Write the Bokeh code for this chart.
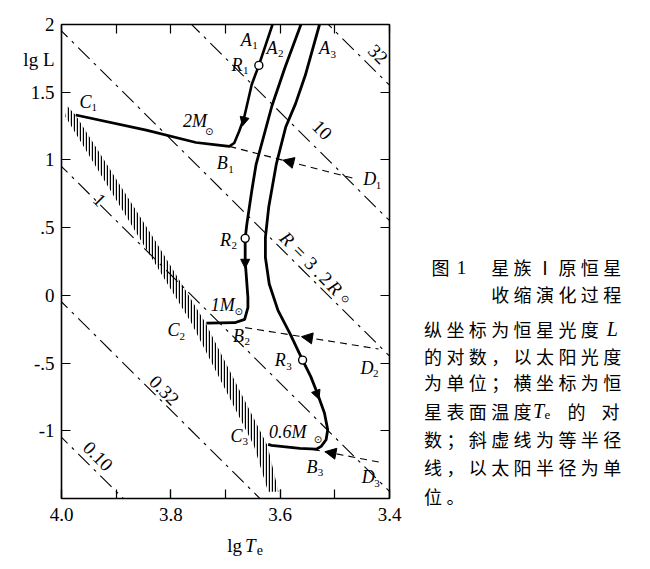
import math
from bokeh.plotting import figure
from bokeh.layouts import row, column
from bokeh.models import Range1d, FixedTicker, LinearAxis, Label, Arrow, NormalHead
from bokeh.core.properties import value
from bokeh.embed import file_html
from bokeh.resources import INLINE

# ---------------- data (lg Te, lg L) ----------------
x_label_ticks = [4.0, 3.8, 3.6, 3.4]
x_tick_labels = ["4.0", "3.8", "3.6", "3.4"]
x_ticks = [4.0, 3.9, 3.8, 3.7, 3.6, 3.5, 3.4]
y_ticks = [2.0, 1.5, 1.0, 0.5, 0.0, -0.5, -1.0, -1.5]
# left-axis label positions: tick values plus the axis title "lg L" between 2 and 1.5
y_label_pos = [2.0, 1.74, 1.5, 1.0, 0.5, 0.0, -0.5, -1.0]
y_label_text = ["2", "lg L", "1.5", "1", ".5", "0", "-.5", "-1"]

# evolutionary tracks (2, 1, 0.6 solar masses)
t1_lgT = [3.614, 3.639, 3.652, 3.666, 3.675, 3.684, 3.693, 3.717, 3.754, 3.845, 3.974]
t1_lgL = [2.00, 1.698, 1.557, 1.311, 1.212, 1.125, 1.100, 1.111, 1.129, 1.220, 1.331]
t2_lgT = [3.562, 3.591, 3.615, 3.644, 3.652, 3.661, 3.664, 3.664, 3.659, 3.659, 3.665, 3.683, 3.735]
t2_lgL = [2.00, 1.684, 1.400, 0.968, 0.771, 0.524, 0.421, 0.254, -0.016, -0.090, -0.177, -0.202, -0.205]
t3_lgT = [3.528, 3.554, 3.572, 3.590, 3.607, 3.621, 3.627, 3.627, 3.620, 3.604, 3.582, 3.559,
          3.544, 3.532, 3.519, 3.513, 3.516, 3.525, 3.534, 3.564, 3.616, 3.622]
t3_lgL = [2.00, 1.625, 1.414, 1.241, 0.970, 0.650, 0.428, 0.280, 0.084, -0.111, -0.283, -0.478,
          -0.600, -0.723, -0.869, -0.992, -1.066, -1.115, -1.136, -1.130, -1.108, -1.101]

# R points (open circles)
r_lgT = [3.639, 3.664, 3.559]
r_lgL = [1.698, 0.421, -0.478]

# direction arrows on tracks (from, to)
ta_from_lgT = [3.657, 3.664, 3.541]
ta_from_lgL = [1.45, 0.36, -0.64]
ta_to_lgT = [3.669, 3.664, 3.529]
ta_to_lgL = [1.25, 0.20, -0.767]

# B -> D dashed lines and arrow tips
bd_B_lgT = [3.693, 3.664, 3.540]
bd_B_lgL = [1.100, -0.238, -1.137]
bd_D_lgT = [3.461, 3.420, 3.418]
bd_D_lgL = [0.859, -0.396, -1.232]
bd_tip_lgT = [3.595, 3.561, 3.518]
bd_tip_lgL = [0.998, -0.305, -1.154]

# main-sequence hatched band
band_upper_lgT = [3.990, 3.974, 3.831, 3.737, 3.623, 3.603]
band_upper_lgL = [1.40, 1.33, 0.42, -0.20, -1.11, -1.45]
band_lower_lgT = [3.622, 3.648, 3.763, 3.857, 3.993]
band_lower_lgL = [-1.45, -1.11, -0.20, 0.42, 1.32]

# lines of constant radius (R in solar radii): lg L at lg Te = 4.05 and 3.35
iso_R = ["0.10", "0.32", "1", "3.2", "10", "32"]
iso_lgT_ends = [4.05, 3.35]
iso_lgL_left = [-0.848, 0.152, 1.152, 2.152, 3.152, 4.152]
iso_lgL_right = [-3.648, -2.648, -1.648, -0.648, 0.352, 1.352]

caption_rows = ["星族Ⅰ原恒星", "收缩演化过程", "纵坐标为恒星光度", "的对数，以太阳光度",
                "为单位；横坐标为恒", "星表面温度", "数；斜虚线为等半径", "线，以太阳半径为单", "位。"]

# ---------------- layout sizes (pixels) ----------------
TOTAL_W, TOTAL_H = 634, 558
PW = 415                  # width of main plot figure
ML, MR, MT, MB = 61, 26, 24, 31
PH = 24 + 474 + MB        # main figure height
SH = TOTAL_H - PH         # strip below (x title)
CW = TOTAL_W - PW         # caption figure width

SERIF = "Liberation Serif"
CJK = "Noto Sans CJK SC"

p = figure(width=PW, height=PH, x_range=Range1d(4.0, 3.4), y_range=Range1d(-1.5, 2.0),
           output_backend="svg", toolbar_location=None,
           min_border_left=ML, min_border_right=MR, min_border_top=MT, min_border_bottom=MB)
p.grid.visible = False
p.outline_line_color = "black"
p.outline_line_width = 1.6
p.background_fill_color = "white"
p.border_fill_color = "white"


def base_axis(ax, labelled=True):
    ax.major_tick_in = 9
    ax.major_tick_out = 0
    ax.minor_tick_in = 9
    ax.minor_tick_out = 0
    ax.major_tick_line_width = 1.2
    ax.major_tick_line_color = "black"
    ax.minor_tick_line_width = 1.2
    ax.minor_tick_line_color = "black"
    ax.axis_line_color = None
    ax.major_label_text_font = SERIF
    if labelled:
        ax.major_label_text_color = "black"
        ax.major_label_text_font_size = "19px"
    else:
        ax.major_label_text_color = None
        ax.major_label_text_font_size = "0px"


# bottom axis: labels every 0.2, tick marks every 0.1
xa = p.xaxis[0]
base_axis(xa)
xa.ticker = FixedTicker(ticks=x_label_ticks, minor_ticks=x_ticks)
xa.major_label_overrides = dict(zip(x_label_ticks, x_tick_labels))
xa.major_label_standoff = 9

# left axis: labels at y_label_pos (no marks), tick marks drawn as minor ticks at y_ticks
ya = p.yaxis[0]
base_axis(ya)
ya.ticker = FixedTicker(ticks=y_label_pos, minor_ticks=y_ticks)
ya.major_tick_in = 0
ya.major_label_overrides = dict(zip(y_label_pos, y_label_text))
ya.major_label_standoff = 7

ax_top = LinearAxis(ticker=FixedTicker(ticks=x_ticks))
base_axis(ax_top, labelled=False)
p.add_layout(ax_top, "above")
ax_right = LinearAxis(ticker=FixedTicker(ticks=y_ticks))
base_axis(ax_right, labelled=False)
p.add_layout(ax_right, "right")

# iso-radius lines
for lft, rgt in zip(iso_lgL_left, iso_lgL_right):
    p.line(iso_lgT_ends, [lft, rgt], line_color="black", line_width=1.1, line_dash="16 6 3 6")

# hatched band
p.patch(band_upper_lgT + band_lower_lgT, band_upper_lgL + band_lower_lgL,
        fill_alpha=0, line_alpha=0, hatch_pattern="|", hatch_color="black",
        hatch_scale=3.0, hatch_weight=1.4)

# B-D dashed lines
for bx, by, dx, dy in zip(bd_B_lgT, bd_B_lgL, bd_D_lgT, bd_D_lgL):
    p.line([bx, dx], [by, dy], line_color="black", line_width=1.1, line_dash="7 5")
for dx, dy, tx, ty in zip(bd_D_lgT, bd_D_lgL, bd_tip_lgT, bd_tip_lgL):
    p.add_layout(Arrow(end=NormalHead(size=11, fill_color="black", line_color="black", line_width=1),
                       x_start=dx, y_start=dy, x_end=tx, y_end=ty, line_alpha=0))

# tracks
p.line(t1_lgT, t1_lgL, line_color="black", line_width=2.6, line_join="round")
p.line(t2_lgT, t2_lgL, line_color="black", line_width=2.8, line_join="round")
p.line(t3_lgT, t3_lgL, line_color="black", line_width=2.8, line_join="round")
for fx, fy, tx, ty in zip(ta_from_lgT, ta_from_lgL, ta_to_lgT, ta_to_lgL):
    p.add_layout(Arrow(end=NormalHead(size=9, fill_color="black", line_color="black", line_width=1),
                       x_start=fx, y_start=fy, x_end=tx, y_end=ty, line_alpha=0))
p.scatter(r_lgT, r_lgL, marker="circle", size=8, fill_color="white", line_color="black", line_width=1.4)


# ---------------- texts inside the frame ----------------
def txt(x, y, text, size=18, italic=False, font=SERIF, align="center", angle=0.0, xo=0, yo=0):
    p.add_layout(Label(x=x, y=y, text=text, text_font=font, text_font_size=f"{size}px",
                       text_font_style="italic" if italic else "normal", text_align=align,
                       text_baseline="middle", text_color="black", angle=angle,
                       x_offset=xo, y_offset=yo))


def sym(x, y, letter, sub):
    txt(x, y, letter, size=18, italic=True)
    txt(x, y, sub, size=11, align="left", xo=6, yo=-6)


sym(3.662, 1.889, "A", "1")
sym(3.615, 1.830, "A", "2")
sym(3.519, 1.823, "A", "3")
sym(3.679, 1.703, "R", "1")
sym(3.700, 0.411, "R", "2")
sym(3.600, -0.480, "R", "3")
sym(3.956, 1.430, "C", "1")
sym(3.795, -0.258, "C", "2")
sym(3.680, -1.038, "C", "3")
sym(3.706, 0.977, "B", "1")
sym(3.676, -0.300, "B", "2")
sym(3.542, -1.264, "B", "3")
sym(3.436, 0.857, "D", "1")
sym(3.441, -0.533, "D", "2")
sym(3.439, -1.344, "D", "3")

SUN = "⊙"
txt(3.756, 1.284, "2M", size=18, italic=True)
txt(3.730, 1.209, SUN, size=10, font="DejaVu Sans")
txt(3.705, -0.068, "1M", size=18, italic=True)
txt(3.676, -0.121, SUN, size=10, font="DejaVu Sans")
txt(3.586, -1.008, "0.6M", size=18, italic=True)
txt(3.531, -1.062, SUN, size=10, font="DejaVu Sans")

ROT = -0.79
txt(3.523, 1.221, "10", size=19, angle=ROT)
txt(3.421, 1.780, "32", size=19, angle=ROT)
txt(3.930, 0.706, "1", size=19, angle=ROT)
txt(3.812, -0.701, "0.32", size=19, angle=ROT)
txt(3.933, -1.187, "0.10", size=19, angle=ROT)

# R = 3.2 R_sun, placed piece by piece along the line direction
a = -0.80
pieces = [("R", True, 19, 0), ("=", False, 19, 17.7), ("3", False, 19, 34.2), (".", False, 19, 46),
          ("2", False, 19, 55.4), ("R", True, 19, 68.4)]
for t, it, sz, d in pieces:
    txt(3.587, 0.418, t, size=sz, italic=it, angle=ROT, xo=d * math.cos(a), yo=d * math.sin(a))
d = 80.7
txt(3.587, 0.418, SUN, size=10, font="DejaVu Sans", angle=ROT,
    xo=d * math.cos(a) + 2, yo=d * math.sin(a) - 2)


# ---------------- helper figures for texts outside the frame ----------------
def text_fig(w, h):
    f = figure(width=w, height=h, x_range=Range1d(0, w), y_range=Range1d(h, 0),
               output_backend="svg", toolbar_location=None, x_axis_type=None, y_axis_type=None,
               min_border=0, min_border_left=0, min_border_right=0, min_border_top=0,
               min_border_bottom=0)
    f.grid.visible = False
    f.outline_line_color = None
    f.background_fill_color = "white"
    f.border_fill_color = "white"
    return f


def put(f, xs, ys, texts, size, font=SERIF, style="normal", align="center"):
    f.text(x=xs, y=ys, text=texts, text_font=value(font), text_font_size=value(f"{size}px"),
           text_font_style=value(style), text_align=align, text_baseline="middle",
           text_color="black")


# x-axis title strip (lg Te) below the main plot; y offset = PH
s = text_fig(PW, SH)
put(s, [219], [545 - PH], ["lg"], 19)
put(s, [239], [545 - PH], ["T"], 19, style="italic")
put(s, [251], [549 - PH], ["e"], 14)

# caption figure on the right; x offset = PW
c = text_fig(CW, TOTAL_H)
row_y = [266.5, 293, 328, 355, 381.7, 410, 438.3, 466.7, 495]
GX0, GDX = 432.5, 22.4
put(c, [440 - PW], [row_y[0]], ["图"], 18, font=CJK)
put(c, [461 - PW], [row_y[0]], ["1"], 19)
cx, cy, ct = [], [], []
for r, rtext in enumerate(caption_rows):
    start = 3 if r < 2 else 0
    for k, ch in enumerate(rtext):
        cx.append(GX0 + GDX * (start + k) - PW)
        cy.append(row_y[r])
        ct.append(ch)
cx += [576 - PW, 610 - PW]
cy += [row_y[5], row_y[5]]
ct += ["的", "对"]
put(c, cx, cy, ct, 18, font=CJK)
put(c, [GX0 + GDX * 8 - PW, 538 - PW], [row_y[2], row_y[5]], ["L", "T"], 20, style="italic")
put(c, [547 - PW], [row_y[5] + 4], ["e"], 13)

layout = row(column(p, s), c)
open("out.html", "w").write(file_html(layout, INLINE))
